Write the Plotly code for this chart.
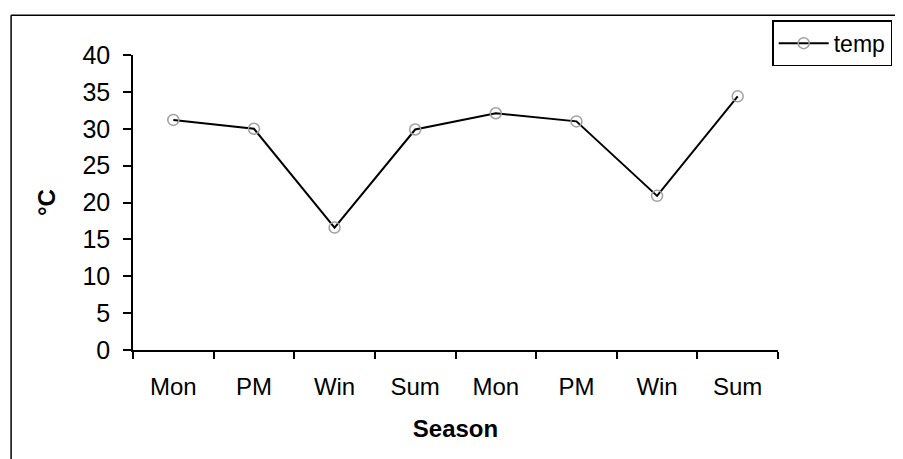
import plotly.graph_objects as go

SEASONS = ["Mon", "PM", "Win", "Sum", "Mon", "PM", "Win", "Sum"]
TEMP = [31.2, 30.0, 16.6, 29.9, 32.1, 31.0, 20.9, 34.4]
Y_TICKS = [0, 5, 10, 15, 20, 25, 30, 35, 40]

FONT = "Liberation Sans, Arial, sans-serif"

positions = list(range(len(SEASONS)))
boundaries = [p - 0.5 for p in positions] + [positions[-1] + 0.5]

fig = go.Figure()

fig.add_trace(go.Scatter(
    x=positions,
    y=TEMP,
    name="temp",
    mode="lines+markers",
    line=dict(color="black", width=2),
    marker=dict(symbol="circle-open", size=11, color="#a0a0a0", line=dict(width=1.5)),
))

fig.update_xaxes(
    range=[-0.5, len(SEASONS) - 0.5],
    tickvals=positions,
    ticktext=SEASONS,
    ticks="",
    showline=True, linecolor="black", linewidth=1.5,
    showgrid=False, zeroline=False,
    ticklabelstandoff=14,
    tickfont=dict(family=FONT, size=24, color="black"),
    minor=dict(tickvals=boundaries, ticks="outside", ticklen=7, tickcolor="black", tickwidth=1.5, showgrid=False),
    title=dict(text="<b>Season</b>", font=dict(family=FONT, size=24, color="black"), standoff=22),
)

fig.update_yaxes(
    range=[0, 40],
    tickvals=Y_TICKS,
    ticks="outside", ticklen=8, tickcolor="black", tickwidth=1.5,
    showline=True, linecolor="black", linewidth=1.5,
    showgrid=False, zeroline=False,
    ticklabelstandoff=8,
    tickfont=dict(family=FONT, size=25, color="black"),
    title=dict(text="<b>°C</b>", font=dict(family=FONT, size=24, color="black"), standoff=20),
)

# outer chart frame (left and top edges visible)
fig.add_shape(type="line", xref="paper", yref="paper", x0=-0.189, x1=1.2, y0=1.135, y1=1.135,
              line=dict(color="black", width=1.5))
fig.add_shape(type="line", xref="paper", yref="paper", x0=-0.189, x1=-0.189, y0=1.135, y1=-0.5,
              line=dict(color="black", width=1.5))

fig.update_layout(
    width=903, height=459,
    margin=dict(l=125, r=133, t=45, b=117),
    paper_bgcolor="white", plot_bgcolor="white",
    font=dict(family=FONT, color="black"),
    showlegend=True,
    legend=dict(
        x=0.991, y=1.118, xanchor="left", yanchor="top",
        bordercolor="black", borderwidth=1.5, bgcolor="white",
        font=dict(family=FONT, size=23, color="black"),
        itemwidth=50,
    ),
)

fig.write_html("out.html")
